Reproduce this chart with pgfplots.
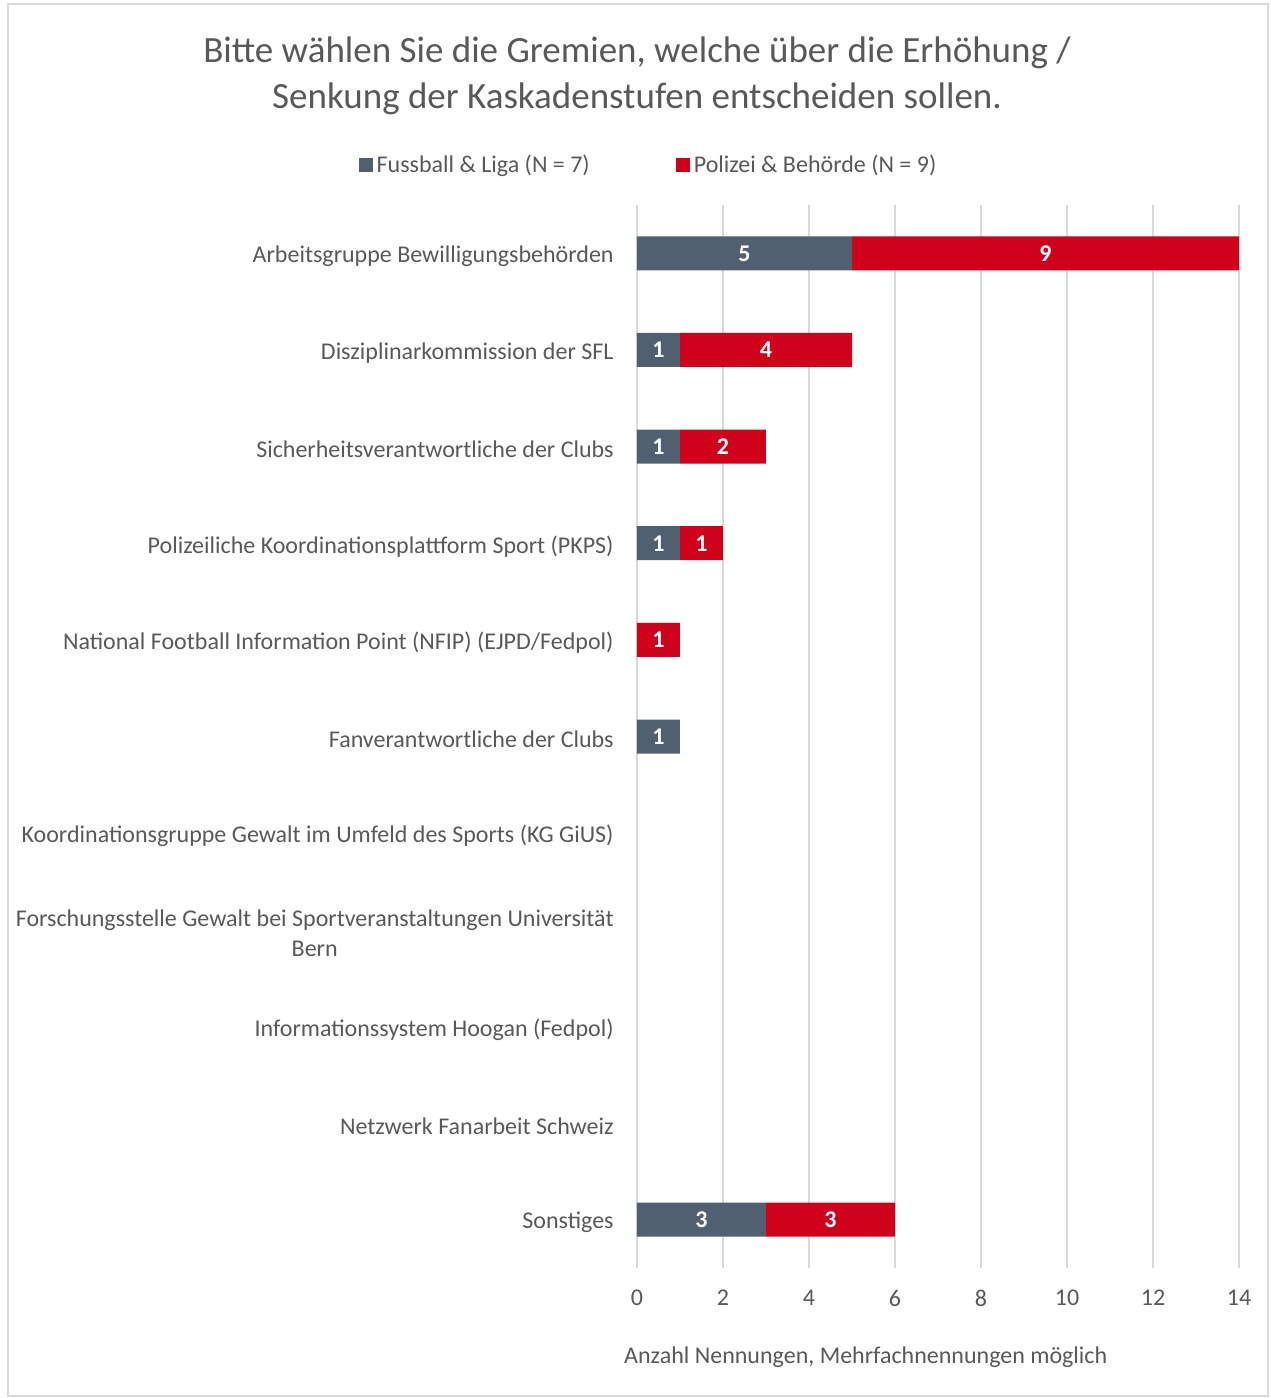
\documentclass[border=0pt]{standalone}
\usepackage{pgfplots}
\pgfplotsset{compat=1.18}
\usepackage{fontspec}
\setmainfont{Carlito}
\definecolor{txt}{HTML}{595959}
\definecolor{fb}{RGB}{80,96,112}
\definecolor{pol}{RGB}{208,2,27}
\definecolor{gridc}{HTML}{D9D9D9}
\begin{document}
\begin{tikzpicture}
\path (0,0) rectangle (635pt,699pt);
\draw[gridc, line width=0.8pt] (4pt,1pt) rectangle (634pt,697pt);
\node[align=center, text=txt, font=\fontsize{18.5}{23}\selectfont] at (318.5pt,661pt) {Bitte wählen Sie die Gremien, welche über die Erhöhung /\\Senkung der Kaskadenstufen entscheiden sollen.};
\begin{axis}[
  at={(318.5pt,65pt)}, anchor=south west,
  scale only axis, width=301pt, height=531.5pt,
  xbar stacked, bar width=17pt,
  xmin=0, xmax=14, ymin=-0.5, ymax=10.5, y dir=reverse,
  xtick={0,2,...,14}, ytick={0,...,10},
  yticklabels={
    {Arbeitsgruppe Bewilligungsbehörden},
    {Disziplinarkommission der SFL},
    {Sicherheitsverantwortliche der Clubs},
    {Polizeiliche Koordinationsplattform Sport (PKPS)},
    {National Football Information Point (NFIP) (EJPD/Fedpol)},
    {Fanverantwortliche der Clubs},
    {Koordinationsgruppe Gewalt im Umfeld des Sports (KG GiUS)},
    {Forschungsstelle Gewalt bei Sportveranstaltungen Universität\\Bern},
    {Informationssystem Hoogan (Fedpol)},
    {Netzwerk Fanarbeit Schweiz},
    {Sonstiges}},
  axis line style={draw=none}, major tick length=0pt,
  xmajorgrids, grid style={gridc, line width=0.8pt},
  tick label style={text=txt, font=\fontsize{12}{15}\selectfont},
  /pgf/number format/assume math mode=true,
  yticklabel style={align=center, inner sep=0pt, xshift=-11.5pt, yshift=-1.5pt},
  xticklabel style={inner sep=0pt, yshift=-11pt},
  xlabel={Anzahl Nennungen, Mehrfachnennungen möglich},
  xlabel style={at={(axis description cs:0.380,-0.0837)}, anchor=center, text=txt, font=\fontsize{12}{14}\selectfont},
  legend columns=2,
  legend style={at={(0.0208,1.0376)}, anchor=center, draw=none, fill=none, text=txt,
    font=\fontsize{12}{14}\selectfont,
    /tikz/every even column/.append style={column sep=41pt}},
  legend image code/.code={\fill[#1] (0pt,-3.5pt) rectangle (7pt,3.5pt);},
  nodes near coords={\pgfmathfloatifflags{\pgfplotspointmeta}{0}{}{\pgfmathprintnumber{\pgfplotspointmeta}}},
  every node near coord/.append style={font=\bfseries\fontsize{12}{14}\selectfont, text=white, anchor=center},
]
\addplot[fill=fb, draw=none] coordinates {(5,0) (1,1) (1,2) (1,3) (0,4) (1,5) (0,6) (0,7) (0,8) (0,9) (3,10)};
\addplot[fill=pol, draw=none] coordinates {(9,0) (4,1) (2,2) (1,3) (1,4) (0,5) (0,6) (0,7) (0,8) (0,9) (3,10)};
\legend{Fussball \& Liga (N = 7), Polizei \& Behörde (N = 9)}
\end{axis}
\end{tikzpicture}
\end{document}
